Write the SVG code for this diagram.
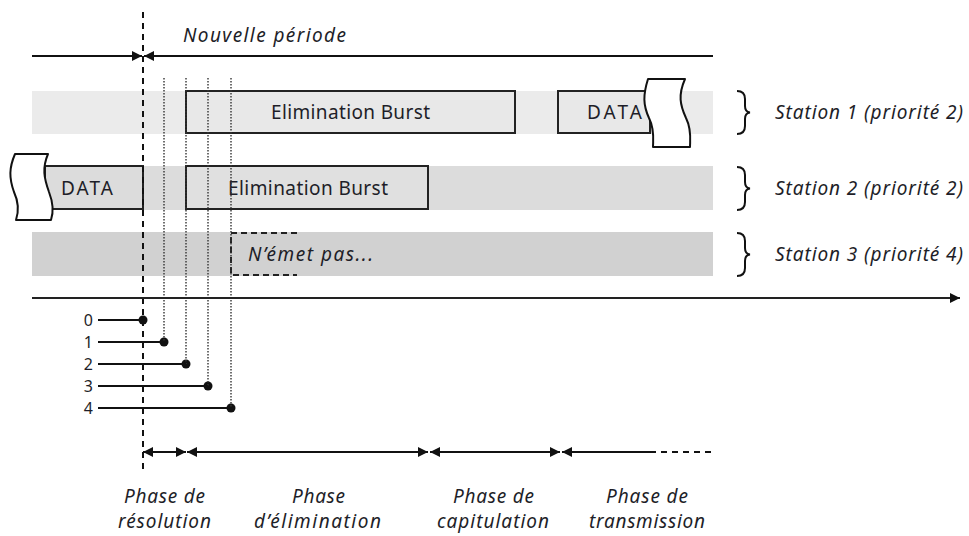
<svg xmlns="http://www.w3.org/2000/svg" width="969" height="536" viewBox="0 0 969 536">
  <style>
    text { font-family: "Noto Sans", "Open Sans", sans-serif; fill: #1e1e28; font-size: 19px; }
    .it { font-style: italic; }
    .num { font-size: 16px; text-anchor: end; }
    .ln { stroke: #111; stroke-width: 2; fill: none; }
    .dot { stroke: #333; stroke-width: 1.4; stroke-dasharray: 1.5 1.5; fill: none; }
    .box { stroke: #222; stroke-width: 2; }
    .torn { fill: #fff; stroke: #111; stroke-width: 2; stroke-linejoin: round; }
  </style>
  <defs>
    <marker id="ah" viewBox="0 0 10 10" refX="10" refY="5" markerWidth="12" markerHeight="10" markerUnits="userSpaceOnUse" orient="auto-start-reverse">
      <path d="M0,0 L10,5 L0,10 z" fill="#111"/>
    </marker>
  </defs>

  <!-- station rows -->
  <g id="station1">
    <rect x="32" y="91" width="681" height="43" fill="#ebebeb"/>
    <rect class="box" x="186" y="91" width="329" height="42" fill="#e8e8e8"/>
    <text x="271" y="119" textLength="159" lengthAdjust="spacing">Elimination Burst</text>
    <rect class="box" x="558" y="91" width="92" height="42" fill="#e8e8e8"/>
    <text x="587" y="119" textLength="55" lengthAdjust="spacing">DATA</text>
    <path class="torn" d="M648,79 L685,79 C678,95 680,105 686,118 C692,130 690,140 690,147 L653,147 C653,140 655,130 649,118 C643,105 643,95 648,79 Z"/>
    <path class="ln" d="M737,91 Q745,91 745,99 L745,106 Q745,112 750,112.5 Q745,113 745,119 L745,126 Q745,134 737,134"/>
    <text class="it" x="775" y="119" textLength="188" lengthAdjust="spacing">Station 1 (priorité 2)</text>
  </g>

  <g id="station2">
    <rect x="32" y="166" width="681" height="44" fill="#dcdcdc"/>
    <rect class="box" x="45" y="166" width="98" height="43" fill="#dcdcdc"/>
    <path class="torn" d="M15,154 L48,154 C42,168 44,178 49,192 C54,205 53,214 51,220 L16,220 C18,214 20,205 14,192 C9,178 9,168 15,154 Z"/>
    <text x="61" y="195" textLength="52" lengthAdjust="spacing">DATA</text>
    <rect class="box" x="186" y="166" width="242" height="43" fill="#e0e0e0"/>
    <text x="228" y="195" textLength="160" lengthAdjust="spacing">Elimination Burst</text>
    <path class="ln" d="M737,167 Q745,167 745,175 L745,182 Q745,188 750,188.5 Q745,189 745,195 L745,202 Q745,210 737,210"/>
    <text class="it" x="775" y="195" textLength="188" lengthAdjust="spacing">Station 2 (priorité 2)</text>
  </g>

  <g id="station3">
    <rect x="32" y="232" width="681" height="44" fill="#d1d1d1"/>
    <path d="M297,233 L231,233 L231,275 L297,275" fill="none" stroke="#222" stroke-width="2" stroke-dasharray="6 4"/>
    <text class="it" x="248" y="261" textLength="125" lengthAdjust="spacing">N’émet pas...</text>
    <path class="ln" d="M737,233 Q745,233 745,241 L745,248 Q745,254 750,254.5 Q745,255 745,261 L745,268 Q745,276 737,276"/>
    <text class="it" x="775" y="261" textLength="188" lengthAdjust="spacing">Station 3 (priorité 4)</text>
  </g>

  <g id="period">
    <text class="it" x="183" y="42" textLength="163" lengthAdjust="spacing">Nouvelle période</text>
  </g>

  <g id="slots">
    <text class="num" x="93" y="326">0</text>
    <text class="num" x="93" y="348">1</text>
    <text class="num" x="93" y="370">2</text>
    <text class="num" x="93" y="392">3</text>
    <text class="num" x="93" y="414">4</text>
    <circle cx="143" cy="320" r="4.5" fill="#111"/>
    <circle cx="164" cy="342" r="4.5" fill="#111"/>
    <circle cx="186" cy="364" r="4.5" fill="#111"/>
    <circle cx="208" cy="386" r="4.5" fill="#111"/>
    <circle cx="231" cy="408" r="4.5" fill="#111"/>
  </g>

  <g id="phases">
    <text class="it" x="124" y="503" textLength="81" lengthAdjust="spacing">Phase de</text>
    <text class="it" x="118" y="528" textLength="93" lengthAdjust="spacing">résolution</text>
    <text class="it" x="292" y="503" textLength="53" lengthAdjust="spacing">Phase</text>
    <text class="it" x="254" y="528" textLength="127" lengthAdjust="spacing">d’élimination</text>
    <text class="it" x="453" y="503" textLength="81" lengthAdjust="spacing">Phase de</text>
    <text class="it" x="437" y="528" textLength="112" lengthAdjust="spacing">capitulation</text>
    <text class="it" x="606" y="503" textLength="82" lengthAdjust="spacing">Phase de</text>
    <text class="it" x="589" y="528" textLength="116" lengthAdjust="spacing">transmission</text>
  </g>

  <g id="connectors">
    <!-- period boundary -->
    <line x1="143" y1="12" x2="143" y2="470" stroke="#111" stroke-width="2" stroke-dasharray="6 5"/>
    <line class="dot" x1="164" y1="78" x2="164" y2="342"/>
    <line class="dot" x1="186" y1="78" x2="186" y2="364"/>
    <line class="dot" x1="208" y1="78" x2="208" y2="386"/>
    <line class="dot" x1="231" y1="78" x2="231" y2="408"/>
    <!-- period arrows -->
    <line class="ln" x1="32" y1="56" x2="142" y2="56" marker-end="url(#ah)"/>
    <line class="ln" x1="144" y1="56" x2="713" y2="56" marker-start="url(#ah)"/>
    <!-- time axis -->
    <line x1="32" y1="298" x2="960" y2="298" stroke="#222" stroke-width="2.2" marker-end="url(#ah)"/>
    <!-- slot ticks -->
    <line class="ln" x1="98" y1="320" x2="143" y2="320"/>
    <line class="ln" x1="98" y1="342" x2="164" y2="342"/>
    <line class="ln" x1="98" y1="364" x2="186" y2="364"/>
    <line class="ln" x1="98" y1="386" x2="208" y2="386"/>
    <line class="ln" x1="98" y1="408" x2="231" y2="408"/>
    <!-- phase spans -->
    <line class="ln" x1="143" y1="452" x2="186" y2="452" marker-start="url(#ah)" marker-end="url(#ah)"/>
    <line class="ln" x1="187" y1="452" x2="428" y2="452" marker-start="url(#ah)" marker-end="url(#ah)"/>
    <line class="ln" x1="430" y1="452" x2="560" y2="452" marker-start="url(#ah)" marker-end="url(#ah)"/>
    <line class="ln" x1="562" y1="452" x2="650" y2="452" marker-start="url(#ah)"/>
    <line class="ln" x1="650" y1="452" x2="713" y2="452" stroke-dasharray="6 5" stroke-width="1.6"/>
  </g>
</svg>
